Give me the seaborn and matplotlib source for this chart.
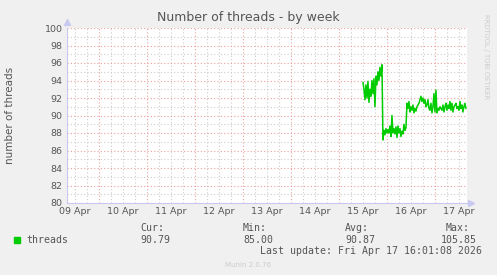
import numpy as np
import pandas as pd
import matplotlib
matplotlib.use("Agg")
import matplotlib.pyplot as plt
import matplotlib.dates as mdates
import seaborn as sns

# ---- data (30-minute samples) ----
start_time = "2026-04-15 12:00"
threads_seg1 = [93.8, 93.0, 91.8, 93.5, 92.0, 93.9, 91.5, 93.0, 92.2, 94.0,
                92.5, 94.2, 91.0, 94.5, 93.5, 95.0, 94.0, 95.5, 94.5, 95.8]
threads_seg2 = [87.2, 88.3, 87.8, 88.5, 88.0, 88.4, 88.0, 88.8, 87.6, 90.0,
                88.0, 88.5, 87.9, 88.7, 87.5, 88.8, 88.0, 88.5, 87.6, 88.2,
                87.9, 89.0, 88.3, 88.6]
threads_seg3 = [91.4, 90.8, 91.6, 90.4, 91.0, 90.6, 91.2, 90.3, 90.8, 90.5,
                91.0, 91.2, 91.4, 91.8, 92.2, 91.6, 92.0, 91.4, 91.8, 91.0,
                91.2, 91.8, 90.8, 90.6, 91.4, 90.3, 91.0, 92.5, 90.4, 92.9,
                90.3, 90.8, 90.6, 91.0, 90.8, 90.6, 91.2, 90.4, 91.0, 91.4,
                90.6, 91.2, 90.8, 91.6, 90.6, 91.4, 90.4, 91.0, 91.2, 91.4,
                90.8, 91.0, 90.6, 91.6, 90.8, 91.2, 90.4, 91.0, 91.4, 90.8]
day_labels = ["09 Apr", "10 Apr", "11 Apr", "12 Apr", "13 Apr",
              "14 Apr", "15 Apr", "16 Apr", "17 Apr"]
y_ticks = [80, 82, 84, 86, 88, 90, 92, 94, 96, 98, 100]
stats_names = ["Cur:", "Min:", "Avg:", "Max:"]
stats_values = ["90.79", "85.00", "90.87", "105.85"]

values = threads_seg1 + threads_seg2 + threads_seg3
times = pd.date_range(start_time, periods=len(values), freq="30min")
df = pd.DataFrame({"time": times, "threads": values})

sns.set_style("white")
plt.rcParams["font.family"] = ["DejaVu Sans"]

W, H = 497, 275
fig = plt.figure(figsize=(W / 100, H / 100), dpi=100, facecolor="#F0F0F0")
ax = fig.add_axes([67 / W, (H - 203) / H, 400 / W, 175 / H])
ax.set_facecolor("white")

t_end = pd.Timestamp("2026-04-17 16:01:08")
t_start = t_end - pd.Timedelta(seconds=720000)

# grid
minor_col = (0.80, 0.80, 0.80)
major_col = (0.93, 0.62, 0.62)
ls = (0, (1, 2))
for h in pd.date_range("2026-04-09 12:00", "2026-04-17 12:00", freq="6h"):
    if h.hour != 0:
        ax.axvline(h, color=minor_col, lw=0.8, ls=ls, zorder=1)
for v in range(81, 100, 1):
    if v % 2:
        ax.axhline(v, color=minor_col, lw=0.8, ls=ls, zorder=1)
for d in pd.date_range("2026-04-10", "2026-04-17", freq="1D"):
    ax.axvline(d, color=major_col, lw=0.8, ls=ls, zorder=1)
for v in y_ticks[1:]:
    ax.axhline(v, color=major_col, lw=0.8, ls=ls, zorder=1)

sns.lineplot(data=df, x="time", y="threads", ax=ax, color="#00CC00",
             lw=1.1, zorder=3, legend=False)

ax.set_xlim(t_start, t_end)
ax.set_ylim(80, 100)
ax.set_yticks(y_ticks)
ax.set_yticklabels([str(v) for v in y_ticks])
label_pos = pd.date_range("2026-04-09 12:00", periods=len(day_labels), freq="1D")
ax.set_xticks(label_pos)
ax.set_xticklabels(day_labels)
ax.tick_params(axis="both", labelsize=6.8, colors="#555555", length=0, pad=3)
ax.set_xlabel("")
ax.set_ylabel("number of threads", fontsize=7.5, color="#555555")
ax.yaxis.set_label_coords(-0.13, 0.5)

for s in ["top", "right"]:
    ax.spines[s].set_visible(False)
for s in ["left", "bottom"]:
    ax.spines[s].set_color("#C8C8F0")
    ax.spines[s].set_linewidth(0.8)
ax.plot([0], [1.035], marker="^", ms=4, color="#C8C8F0", transform=ax.transAxes, clip_on=False)
ax.plot([1.01], [0], marker=">", ms=4, color="#C8C8F0", transform=ax.transAxes, clip_on=False)

fig.text(248 / W, 1 - 18 / H, "Number of threads - by week", ha="center", va="center",
         fontsize=9, color="#555555")
fig.text(486 / W, 1 - 57 / H, "RRDTOOL / TOBI OETIKER", rotation=270, ha="center",
         va="center", fontsize=4.8, color="#CCCCCC")

mono = "DejaVu Sans Mono"
fs = 7.1
fig.patches.append(plt.Rectangle((14 / W, 1 - 243 / H), 6 / W, 6 / H,
                                 transform=fig.transFigure, color="#00CC00"))
fig.text(26 / W, 1 - 240 / H, "threads", fontsize=fs, family=mono, color="#555555", va="center")
name_x = [140, 243, 345, 470]
val_x = [140, 243, 345, 477]
for i in range(4):
    if i < 3:
        fig.text(name_x[i] / W, 1 - 228 / H, stats_names[i], fontsize=fs, family=mono,
                 color="#555555", va="center")
        fig.text(val_x[i] / W, 1 - 240 / H, stats_values[i], fontsize=fs, family=mono,
                 color="#555555", va="center")
    else:
        fig.text(name_x[i] / W, 1 - 228 / H, stats_names[i], fontsize=fs, family=mono,
                 color="#555555", va="center", ha="right")
        fig.text(val_x[i] / W, 1 - 240 / H, stats_values[i], fontsize=fs, family=mono,
                 color="#555555", va="center", ha="right")
fig.text(482 / W, 1 - 251 / H, "Last update: Fri Apr 17 16:01:08 2026", fontsize=fs,
         family=mono, color="#555555", va="center", ha="right")
fig.text(248 / W, 1 - 265 / H, "Munin 2.0.76", fontsize=5, color="#CCCCCC",
         ha="center", va="center")

fig.savefig("out.png", dpi=100, facecolor=fig.get_facecolor())
